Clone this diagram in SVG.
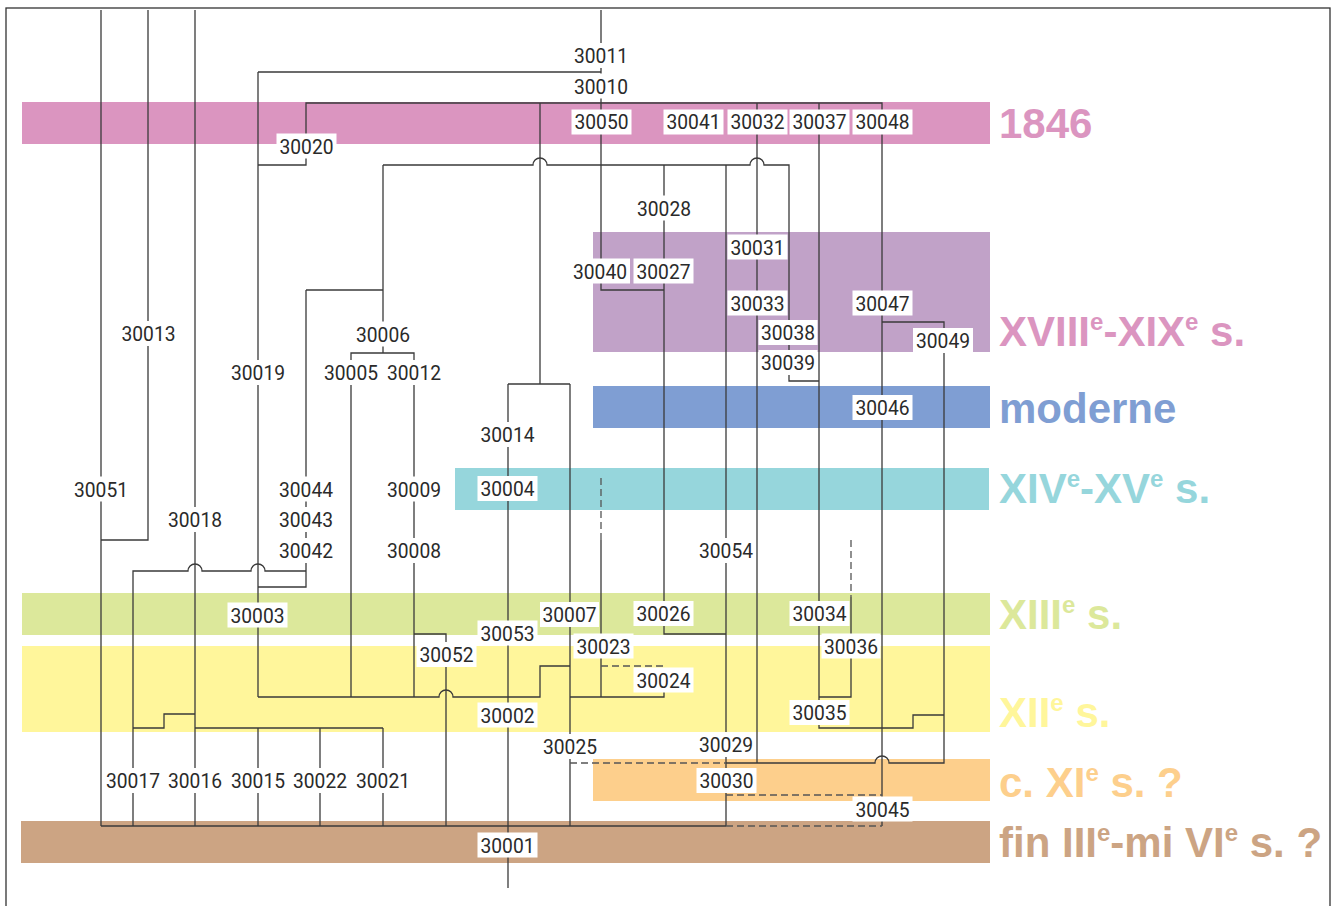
<svg xmlns="http://www.w3.org/2000/svg" width="1335" height="906" viewBox="0 0 1335 906">
<style>
.c{fill:none;stroke:#3a3a3a;stroke-width:1.3}
.d{fill:none;stroke:#555;stroke-width:1.3;stroke-dasharray:7 4}
.b{fill:#fff}
.t{font-family:Roboto,"Liberation Sans",sans-serif;font-size:21px;fill:#2a2a2a;text-anchor:middle}
.p{font-family:"Liberation Sans",Arial,sans-serif;font-size:42px;font-weight:bold}
</style>
<rect x="0" y="0" width="1335" height="906" fill="#fff"/>
<rect x="6" y="8" width="1324" height="930" fill="none" stroke="#333" stroke-width="1.3"/>
<g id="bands">
<rect x="22" y="102" width="968" height="42" fill="#DB95C0"/>
<rect x="593" y="232" width="397" height="120" fill="#C1A2C8"/>
<rect x="593" y="386" width="397" height="42" fill="#7F9ED3"/>
<rect x="455" y="468" width="534" height="42" fill="#96D6DC"/>
<rect x="22" y="593" width="968" height="42" fill="#DCE89B"/>
<rect x="22" y="646" width="968" height="86" fill="#FFF69B"/>
<rect x="593" y="759" width="397" height="42" fill="#FDCF8C"/>
<rect x="21" y="821" width="969" height="42" fill="#CCA483"/>
</g>
<g id="periods" class="p">
<text x="999" y="138" fill="#DB95C0">1846</text>
<text x="999" y="346" fill="#DB95C0">XVIII<tspan font-size="24" dy="-16">e</tspan><tspan dy="16">-XIX</tspan><tspan font-size="24" dy="-16">e</tspan><tspan dy="16"> s.</tspan></text>
<text x="999" y="423" fill="#7F9ED3">moderne</text>
<text x="999" y="503" fill="#96D6DC">XIV<tspan font-size="24" dy="-16">e</tspan><tspan dy="16">-XV</tspan><tspan font-size="24" dy="-16">e</tspan><tspan dy="16"> s.</tspan></text>
<text x="999" y="629" fill="#DCE89B">XIII<tspan font-size="24" dy="-16">e</tspan><tspan dy="16"> s.</tspan></text>
<text x="999" y="727" fill="#FFF69B">XII<tspan font-size="24" dy="-16">e</tspan><tspan dy="16"> s.</tspan></text>
<text x="999" y="797" fill="#FDCF8C">c. XI<tspan font-size="24" dy="-16">e</tspan><tspan dy="16"> s. ?</tspan></text>
<text x="999" y="857" fill="#CCA483">fin III<tspan font-size="24" dy="-16">e</tspan><tspan dy="16">-mi VI</tspan><tspan font-size="24" dy="-16">e</tspan><tspan dy="16"> s. ?</tspan></text>
</g>
<g id="connectors">
<path class="c" d="M101 10V826"/>
<path class="c" d="M148 10V540H101"/>
<path class="c" d="M195 10V826"/>
<path class="c" d="M601 10V290H664"/>
<path class="c" d="M258 72H601"/>
<path class="c" d="M258 72V697"/>
<path class="c" d="M258 165H306V103H882V826"/>
<path class="c" d="M540 103V384"/>
<path class="c" d="M508 384H570"/>
<path class="c" d="M508 384V888"/>
<path class="c" d="M570 384V826"/>
<path class="c" d="M383 165H533A7 7 0 0 1 547 165H750A7 7 0 0 1 764 165H789V381H819"/>
<path class="c" d="M383 165V353"/>
<path class="c" d="M351 697V353H414V697"/>
<path class="c" d="M414 634H446V826"/>
<path class="c" d="M306 290H383"/>
<path class="c" d="M306 290V587H258"/>
<path class="c" d="M133 826V571H188A7 7 0 0 1 202 571H251A7 7 0 0 1 265 571H306"/>
<path class="c" d="M133 728H164V714H195"/>
<path class="c" d="M195 728H383"/>
<path class="c" d="M258 728V826"/>
<path class="c" d="M320 728V826"/>
<path class="c" d="M383 728V826"/>
<path class="c" d="M258 697H439A7 7 0 0 1 453 697H540V666H570"/>
<path class="c" d="M570 697H664V688"/>
<path class="c" d="M601 540V697"/>
<path class="c" d="M664 165V634H726"/>
<path class="c" d="M726 165V826"/>
<path class="c" d="M757 103V763"/>
<path class="c" d="M726 763H875A7 7 0 0 1 889 763H944V322H882"/>
<path class="c" d="M819 103V728H913V715H944"/>
<path class="c" d="M819 697H851V597"/>
<path class="c" d="M101 826H726"/>
<path class="d" d="M601 478V540"/>
<path class="d" d="M851 540V597"/>
<path class="d" d="M601 666H664V670"/>
<path class="d" d="M570 763H726"/>
<path class="d" d="M726 795H882"/>
<path class="d" d="M726 826H882"/>
</g>
<g id="n30011"><rect class="b" x="571" y="43" width="60" height="25"/><text class="t" x="601" y="63" textLength="54" lengthAdjust="spacingAndGlyphs">30011</text></g>
<g id="n30010"><rect class="b" x="571" y="73.5" width="60" height="25"/><text class="t" x="601" y="93.5" textLength="54" lengthAdjust="spacingAndGlyphs">30010</text></g>
<g id="n30050"><rect class="b" x="571.5" y="109.5" width="60" height="25"/><text class="t" x="601.5" y="129" textLength="54" lengthAdjust="spacingAndGlyphs">30050</text></g>
<g id="n30041"><rect class="b" x="663.5" y="109.5" width="60" height="25"/><text class="t" x="693.5" y="129" textLength="54" lengthAdjust="spacingAndGlyphs">30041</text></g>
<g id="n30032"><rect class="b" x="727.5" y="109.5" width="60" height="25"/><text class="t" x="757.5" y="129" textLength="54" lengthAdjust="spacingAndGlyphs">30032</text></g>
<g id="n30037"><rect class="b" x="789.5" y="109.5" width="60" height="25"/><text class="t" x="819.5" y="129" textLength="54" lengthAdjust="spacingAndGlyphs">30037</text></g>
<g id="n30048"><rect class="b" x="852.5" y="109.5" width="60" height="25"/><text class="t" x="882.5" y="129" textLength="54" lengthAdjust="spacingAndGlyphs">30048</text></g>
<g id="n30020"><rect class="b" x="276.5" y="133.5" width="60" height="25"/><text class="t" x="306.5" y="153.5" textLength="54" lengthAdjust="spacingAndGlyphs">30020</text></g>
<g id="n30028"><rect class="b" x="634" y="195.5" width="60" height="25"/><text class="t" x="664" y="215.5" textLength="54" lengthAdjust="spacingAndGlyphs">30028</text></g>
<g id="n30031"><rect class="b" x="727.5" y="234.5" width="60" height="25"/><text class="t" x="757.5" y="254.5" textLength="54" lengthAdjust="spacingAndGlyphs">30031</text></g>
<g id="n30040"><rect class="b" x="570" y="258.5" width="60" height="25"/><text class="t" x="600" y="278.5" textLength="54" lengthAdjust="spacingAndGlyphs">30040</text></g>
<g id="n30027"><rect class="b" x="633.5" y="258.5" width="60" height="25"/><text class="t" x="663.5" y="278.5" textLength="54" lengthAdjust="spacingAndGlyphs">30027</text></g>
<g id="n30033"><rect class="b" x="727.5" y="290.5" width="60" height="25"/><text class="t" x="757.5" y="310.5" textLength="54" lengthAdjust="spacingAndGlyphs">30033</text></g>
<g id="n30047"><rect class="b" x="852.5" y="290.5" width="60" height="25"/><text class="t" x="882.5" y="310.5" textLength="54" lengthAdjust="spacingAndGlyphs">30047</text></g>
<g id="n30038"><rect class="b" x="758.5" y="320" width="59" height="25"/><text class="t" x="788" y="340" textLength="54" lengthAdjust="spacingAndGlyphs">30038</text></g>
<g id="n30049"><rect class="b" x="913" y="328" width="60" height="25"/><text class="t" x="943" y="348" textLength="54" lengthAdjust="spacingAndGlyphs">30049</text></g>
<g id="n30039"><rect class="b" x="758.5" y="350" width="59" height="25"/><text class="t" x="788" y="370" textLength="54" lengthAdjust="spacingAndGlyphs">30039</text></g>
<g id="n30013"><rect class="b" x="118.5" y="321" width="60" height="25"/><text class="t" x="148.5" y="341" textLength="54" lengthAdjust="spacingAndGlyphs">30013</text></g>
<g id="n30006"><rect class="b" x="353" y="321.5" width="60" height="25"/><text class="t" x="383" y="341.5" textLength="54" lengthAdjust="spacingAndGlyphs">30006</text></g>
<g id="n30019"><rect class="b" x="228" y="360" width="60" height="25"/><text class="t" x="258" y="380" textLength="54" lengthAdjust="spacingAndGlyphs">30019</text></g>
<g id="n30005"><rect class="b" x="321" y="360" width="60" height="25"/><text class="t" x="351" y="380" textLength="54" lengthAdjust="spacingAndGlyphs">30005</text></g>
<g id="n30012"><rect class="b" x="384" y="360" width="60" height="25"/><text class="t" x="414" y="380" textLength="54" lengthAdjust="spacingAndGlyphs">30012</text></g>
<g id="n30046"><rect class="b" x="852.5" y="395" width="60" height="25"/><text class="t" x="882.5" y="415" textLength="54" lengthAdjust="spacingAndGlyphs">30046</text></g>
<g id="n30014"><rect class="b" x="477.5" y="422" width="60" height="25"/><text class="t" x="507.5" y="442" textLength="54" lengthAdjust="spacingAndGlyphs">30014</text></g>
<g id="n30051"><rect class="b" x="71" y="476.5" width="60" height="25"/><text class="t" x="101" y="496.5" textLength="54" lengthAdjust="spacingAndGlyphs">30051</text></g>
<g id="n30044"><rect class="b" x="276" y="476.5" width="60" height="25"/><text class="t" x="306" y="496.5" textLength="54" lengthAdjust="spacingAndGlyphs">30044</text></g>
<g id="n30009"><rect class="b" x="384" y="476.5" width="60" height="25"/><text class="t" x="414" y="496.5" textLength="54" lengthAdjust="spacingAndGlyphs">30009</text></g>
<g id="n30004"><rect class="b" x="477.5" y="476" width="60" height="25"/><text class="t" x="507.5" y="496" textLength="54" lengthAdjust="spacingAndGlyphs">30004</text></g>
<g id="n30018"><rect class="b" x="165" y="507" width="60" height="25"/><text class="t" x="195" y="527" textLength="54" lengthAdjust="spacingAndGlyphs">30018</text></g>
<g id="n30043"><rect class="b" x="276" y="507" width="60" height="25"/><text class="t" x="306" y="527" textLength="54" lengthAdjust="spacingAndGlyphs">30043</text></g>
<g id="n30042"><rect class="b" x="276" y="538" width="60" height="25"/><text class="t" x="306" y="558" textLength="54" lengthAdjust="spacingAndGlyphs">30042</text></g>
<g id="n30008"><rect class="b" x="384" y="538" width="60" height="25"/><text class="t" x="414" y="558" textLength="54" lengthAdjust="spacingAndGlyphs">30008</text></g>
<g id="n30054"><rect class="b" x="696" y="538" width="60" height="25"/><text class="t" x="726" y="558" textLength="54" lengthAdjust="spacingAndGlyphs">30054</text></g>
<g id="n30003"><rect class="b" x="227.5" y="602.5" width="60" height="25"/><text class="t" x="257.5" y="622.5" textLength="54" lengthAdjust="spacingAndGlyphs">30003</text></g>
<g id="n30007"><rect class="b" x="540" y="602" width="59" height="25"/><text class="t" x="569.5" y="622" textLength="54" lengthAdjust="spacingAndGlyphs">30007</text></g>
<g id="n30026"><rect class="b" x="633.5" y="601" width="60" height="25"/><text class="t" x="663.5" y="621" textLength="54" lengthAdjust="spacingAndGlyphs">30026</text></g>
<g id="n30034"><rect class="b" x="789.5" y="601" width="60" height="25"/><text class="t" x="819.5" y="621" textLength="54" lengthAdjust="spacingAndGlyphs">30034</text></g>
<g id="n30053"><rect class="b" x="477.5" y="620.5" width="60" height="25"/><text class="t" x="507.5" y="640.5" textLength="54" lengthAdjust="spacingAndGlyphs">30053</text></g>
<g id="n30052"><rect class="b" x="416.5" y="642" width="60" height="25"/><text class="t" x="446.5" y="662" textLength="54" lengthAdjust="spacingAndGlyphs">30052</text></g>
<g id="n30023"><rect class="b" x="573.5" y="633.5" width="60" height="25"/><text class="t" x="603.5" y="653.5" textLength="54" lengthAdjust="spacingAndGlyphs">30023</text></g>
<g id="n30036"><rect class="b" x="821.5" y="633.5" width="59" height="25"/><text class="t" x="851" y="653.5" textLength="54" lengthAdjust="spacingAndGlyphs">30036</text></g>
<g id="n30024"><rect class="b" x="633.5" y="667.5" width="60" height="25"/><text class="t" x="663.5" y="687.5" textLength="54" lengthAdjust="spacingAndGlyphs">30024</text></g>
<g id="n30002"><rect class="b" x="477.5" y="702.5" width="60" height="25"/><text class="t" x="507.5" y="722.5" textLength="54" lengthAdjust="spacingAndGlyphs">30002</text></g>
<g id="n30035"><rect class="b" x="789.5" y="700" width="60" height="25"/><text class="t" x="819.5" y="720" textLength="54" lengthAdjust="spacingAndGlyphs">30035</text></g>
<g id="n30025"><rect class="b" x="540" y="734" width="60" height="25"/><text class="t" x="570" y="754" textLength="54" lengthAdjust="spacingAndGlyphs">30025</text></g>
<g id="n30029"><rect class="b" x="696" y="732" width="60" height="25"/><text class="t" x="726" y="752" textLength="54" lengthAdjust="spacingAndGlyphs">30029</text></g>
<g id="n30030"><rect class="b" x="696.5" y="768" width="60" height="25"/><text class="t" x="726.5" y="788" textLength="54" lengthAdjust="spacingAndGlyphs">30030</text></g>
<g id="n30045"><rect class="b" x="852.5" y="796.5" width="60" height="25"/><text class="t" x="882.5" y="816.5" textLength="54" lengthAdjust="spacingAndGlyphs">30045</text></g>
<g id="n30001"><rect class="b" x="477.5" y="832.5" width="60" height="25"/><text class="t" x="507.5" y="852.5" textLength="54" lengthAdjust="spacingAndGlyphs">30001</text></g>
<g id="n30017"><rect class="b" x="104" y="768" width="58" height="25"/><text class="t" x="133" y="788" textLength="54" lengthAdjust="spacingAndGlyphs">30017</text></g>
<g id="n30016"><rect class="b" x="166" y="768" width="58" height="25"/><text class="t" x="195" y="788" textLength="54" lengthAdjust="spacingAndGlyphs">30016</text></g>
<g id="n30015"><rect class="b" x="229" y="768" width="58" height="25"/><text class="t" x="258" y="788" textLength="54" lengthAdjust="spacingAndGlyphs">30015</text></g>
<g id="n30022"><rect class="b" x="291" y="768" width="58" height="25"/><text class="t" x="320" y="788" textLength="54" lengthAdjust="spacingAndGlyphs">30022</text></g>
<g id="n30021"><rect class="b" x="354" y="768" width="58" height="25"/><text class="t" x="383" y="788" textLength="54" lengthAdjust="spacingAndGlyphs">30021</text></g>
</svg>
